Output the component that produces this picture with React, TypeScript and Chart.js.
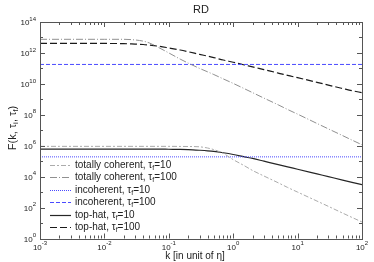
import React, { useEffect, useRef } from 'react';
import { Chart, registerables } from 'chart.js';

Chart.register(...registerables);

// k values (in unit of eta)
const K = [0.001, 0.002, 0.005, 0.01, 0.02, 0.03, 0.04, 0.05, 0.07, 0.1, 0.15, 0.2, 0.3, 0.4, 0.5, 0.7, 1, 1.5, 2, 3, 5, 7, 10, 20, 30, 50, 70, 100];

// totally coherent, tau_f = 10
const COH10 = [9.1e5, 9.1e5, 9.1e5, 9.1e5, 9.1e5, 9.1e5, 9.1e5, 9.1e5, 9.1e5, 9.1e5, 9.0e5, 8.9e5, 8.5e5, 7.1e5, 5.6e5, 3.2e5, 1.26e5, 5.0e4, 2.5e4, 1.1e4, 4.0e3, 2.0e3, 1.0e3, 263, 120, 44, 23, 11.7];
// totally coherent, tau_f = 100
const COH100 = [7.6e12, 7.6e12, 7.6e12, 7.6e12, 7.6e12, 6.9e12, 5.8e12, 4.4e12, 2.2e12, 1.0e12, 4.0e11, 2.2e11, 1.0e11, 6.0e10, 4.0e10, 2.1e10, 1.07e10, 4.8e9, 2.7e9, 1.2e9, 4.4e8, 2.2e8, 1.1e8, 2.75e7, 1.23e7, 4.5e6, 2.3e6, 1.15e6];
// incoherent (flat)
const INC_K = [0.001, 100];
const INC10 = [1.9e5, 1.9e5];
const INC100 = [1.8e11, 1.8e11];
// top-hat
const TOP10 = [6.0e5, 6.0e5, 6.0e5, 6.0e5, 6.0e5, 6.0e5, 6.0e5, 6.0e5, 6.0e5, 5.9e5, 5.8e5, 5.6e5, 5.1e5, 4.7e5, 4.3e5, 3.5e5, 2.7e5, 1.9e5, 1.5e5, 1.0e5, 6.0e4, 4.3e4, 3.0e4, 1.5e4, 1.0e4, 6.0e3, 4.3e3, 3.0e3];
const TOP100 = [4.2e12, 4.2e12, 4.2e12, 4.1e12, 4.0e12, 3.7e12, 3.5e12, 3.2e12, 2.7e12, 2.1e12, 1.55e12, 1.2e12, 8.1e11, 6.2e11, 5.0e11, 3.5e11, 2.5e11, 1.66e11, 1.26e11, 8.3e10, 5.0e10, 3.5e10, 2.5e10, 1.26e10, 8.3e9, 5.0e9, 3.6e9, 2.7e9];

const X_EXP = [-3, -2, -1, 0, 1, 2];
const Y_EXP = [0, 2, 4, 6, 8, 10, 12, 14];

const TITLE = 'RD';
const X_TITLE = 'k [in unit of η]';

type Entry = { pre: string; sub: string; post: string };
const LEGEND: Entry[] = [
  { pre: 'totally coherent, τ', sub: 'f', post: '=10' },
  { pre: 'totally coherent, τ', sub: 'f', post: '=100' },
  { pre: 'incoherent, τ', sub: 'f', post: '=10' },
  { pre: 'incoherent, τ', sub: 'f', post: '=100' },
  { pre: 'top-hat, τ', sub: 'f', post: '=10' },
  { pre: 'top-hat, τ', sub: 'f', post: '=100' },
];

const FONT = '"Liberation Sans", Arial, Helvetica, sans-serif';

const STYLES = [
  { color: '#ababab', dash: [5, 2, 2, 2], width: 1 },
  { color: '#909090', dash: [7, 2, 1, 2], width: 1 },
  { color: '#4a4aff', dash: [1, 1], width: 1 },
  { color: '#4a4aff', dash: [4, 2], width: 1 },
  { color: '#262626', dash: [] as number[], width: 1.2 },
  { color: '#1a1a1a', dash: [7, 3], width: 1.2 },
];

const pts = (xs: number[], ys: number[]) => xs.map((x, i) => ({ x, y: ys[i] }));

const decorPlugin = {
  id: 'decor',
  afterDraw(chart: any) {
    const { ctx, chartArea: a, scales } = chart;
    const xs = scales.x;
    const ys = scales.y;
    ctx.save();
    // frame
    ctx.strokeStyle = '#555';
    ctx.lineWidth = 1;
    ctx.setLineDash([]);
    ctx.strokeRect(Math.round(a.left) + 0.5, Math.round(a.top) + 0.5, Math.round(a.right - a.left), Math.round(a.bottom - a.top));
    // ticks
    ctx.beginPath();
    for (let d = -3; d <= 2; d++) {
      for (let m = 1; m <= 9; m++) {
        if (d === 2 && m > 1) break;
        const px = Math.round(xs.getPixelForValue(m * Math.pow(10, d))) + 0.5;
        const len = m === 1 ? 5 : 3;
        ctx.moveTo(px, a.bottom);
        ctx.lineTo(px, a.bottom - len);
        ctx.moveTo(px, a.top);
        ctx.lineTo(px, a.top + len);
      }
    }
    for (let d = 0; d <= 14; d++) {
      const py = Math.round(ys.getPixelForValue(Math.pow(10, d))) + 0.5;
      const len = d % 2 === 0 ? 5 : 3;
      ctx.moveTo(a.left, py);
      ctx.lineTo(a.left + len, py);
      ctx.moveTo(a.right, py);
      ctx.lineTo(a.right - len, py);
    }
    ctx.stroke();

    ctx.fillStyle = '#222';
    ctx.textBaseline = 'middle';
    const baseF = `8px ${FONT}`;
    const expF = `6px ${FONT}`;
    // x labels
    for (const e of X_EXP) {
      const px = xs.getPixelForValue(Math.pow(10, e));
      ctx.font = baseF;
      const w1 = ctx.measureText('10').width;
      ctx.font = expF;
      const es = String(e);
      const w2 = ctx.measureText(es).width;
      const x0 = px - (w1 + w2) / 2;
      ctx.font = baseF;
      ctx.textAlign = 'left';
      ctx.fillText('10', x0, a.bottom + 9);
      ctx.font = expF;
      ctx.fillText(es, x0 + w1, a.bottom + 5);
    }
    // y labels
    for (const e of Y_EXP) {
      const py = ys.getPixelForValue(Math.pow(10, e));
      ctx.font = expF;
      const es = String(e);
      const w2 = ctx.measureText(es).width;
      ctx.font = baseF;
      const w1 = ctx.measureText('10').width;
      const xr = a.left - 4;
      ctx.textAlign = 'left';
      ctx.fillText('10', xr - w2 - w1, py + 1);
      ctx.font = expF;
      ctx.fillText(es, xr - w2, py - 3);
    }
    // title
    ctx.font = `11px ${FONT}`;
    ctx.textAlign = 'center';
    ctx.fillText(TITLE, (a.left + a.right) / 2, 10);
    // x title
    ctx.font = `10px ${FONT}`;
    ctx.fillText(X_TITLE, 195, 256);

    // y title, rotated with subscripts
    ctx.save();
    ctx.translate(13, 128);
    ctx.rotate(-Math.PI / 2);
    const parts: [string, boolean][] = [['F(k, τ', false], ['i', true], [', τ', false], ['f', true], [')', false]];
    const mF = `11px ${FONT}`;
    const sF = `8px ${FONT}`;
    let tw = 0;
    for (const [s, sub] of parts) { ctx.font = sub ? sF : mF; tw += ctx.measureText(s).width; }
    let cx = -tw / 2;
    ctx.textAlign = 'left';
    for (const [s, sub] of parts) {
      ctx.font = sub ? sF : mF;
      ctx.fillText(s, cx, sub ? 3 : 0);
      cx += ctx.measureText(s).width;
    }
    ctx.restore();

    // legend
    const ly0 = 164.5;
    const dy = 12.5;
    LEGEND.forEach((en, i) => {
      const y = Math.round(ly0 + i * dy) + 0.5;
      const st = STYLES[i];
      ctx.strokeStyle = st.color;
      ctx.lineWidth = st.width;
      ctx.setLineDash(st.dash);
      ctx.beginPath();
      ctx.moveTo(50, y);
      ctx.lineTo(71, y);
      ctx.stroke();
      ctx.setLineDash([]);
      ctx.fillStyle = '#222';
      let x = 75;
      ctx.textAlign = 'left';
      ctx.font = `10px ${FONT}`;
      ctx.fillText(en.pre, x, y);
      x += ctx.measureText(en.pre).width;
      ctx.font = `7px ${FONT}`;
      ctx.fillText(en.sub, x, y + 3);
      x += ctx.measureText(en.sub).width;
      ctx.font = `10px ${FONT}`;
      ctx.fillText(en.post, x, y);
    });
    ctx.restore();
  },
};

export default function App() {
  const ref = useRef<HTMLCanvasElement | null>(null);
  useEffect(() => {
    if (!ref.current) return;
    const series = [
      pts(K, COH10),
      pts(K, COH100),
      pts(INC_K, INC10),
      pts(INC_K, INC100),
      pts(K, TOP10),
      pts(K, TOP100),
    ];
    const chart = new Chart(ref.current, {
      type: 'line',
      data: {
        datasets: series.map((d, i) => ({
          label: LEGEND[i].pre + LEGEND[i].sub + LEGEND[i].post,
          data: d,
          borderColor: STYLES[i].color,
          borderDash: STYLES[i].dash,
          borderWidth: STYLES[i].width,
          pointRadius: 0,
          fill: false,
          cubicInterpolationMode: 'monotone' as const,
        })),
      },
      options: {
        responsive: false,
        animation: false,
        layout: { padding: { left: 40, top: 22, right: 12, bottom: 23.5 } },
        plugins: { legend: { display: false }, title: { display: false }, tooltip: { enabled: false } },
        scales: {
          x: { type: 'logarithmic', min: 1e-3, max: 1e2, display: false },
          y: { type: 'logarithmic', min: 1, max: 1e14, display: false },
        },
      },
      plugins: [decorPlugin],
    });
    return () => chart.destroy();
  }, []);
  return (
    <div style={{ position: 'absolute', left: 0, top: 0, width: 374, height: 262, background: '#fff' }}>
      <canvas ref={ref} width={374} height={262} style={{ display: 'block' }} />
    </div>
  );
}
